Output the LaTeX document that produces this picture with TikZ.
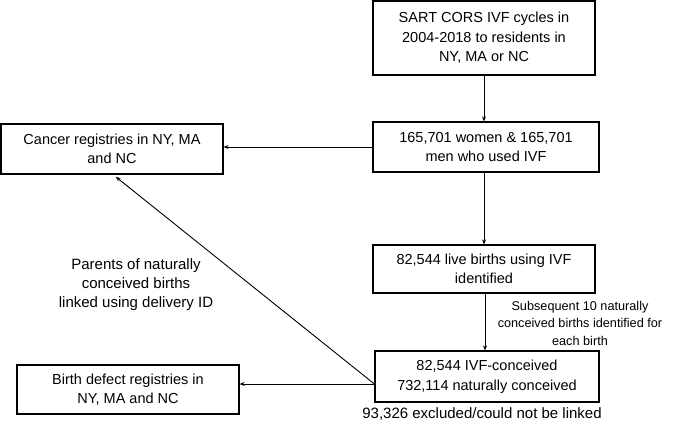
\documentclass[tikz,border=0pt]{standalone}
\usepackage{fontspec}
\setmainfont{Liberation Sans}
\usetikzlibrary{arrows.meta}
\begin{document}
\begin{tikzpicture}[x=1pt,y=-1pt,
  box/.style={draw, line width=1.2pt, align=center, inner sep=0pt,
    font=\fontsize{14.5}{19.5}\selectfont},
  arr/.style={-{Stealth[length=5pt,width=4pt]}, line width=0.9pt},
  lbl/.style={align=center, inner sep=0pt}]
\useasboundingbox (0,0) rectangle (685,426);
\node[box, minimum width=222pt, minimum height=74pt] (b1) at (484,38)
  {SART CORS IVF cycles in\\2004-2018 to residents in\\NY, MA or NC};
\node[box, minimum width=226pt, minimum height=50pt] (b2) at (486,147)
  {165,701 women \& 165,701\\men who used IVF};
\node[box, minimum width=222pt, minimum height=50pt] (can) at (112,149)
  {Cancer registries in NY, MA\\and NC};
\node[box, minimum width=222pt, minimum height=48pt] (b3) at (484,269)
  {82,544 live births using IVF\\identified};
\node[box, minimum width=224pt, minimum height=51pt] (b4) at (487,376.5)
  {82,544 IVF-conceived\\732,114 naturally conceived};
\node[box, minimum width=222pt, minimum height=49pt] (bd) at (128,389.5)
  {Birth defect registries in\\NY, MA and NC};
\node[lbl, font=\fontsize{12.7}{17.5}\selectfont] (l1) at (580,323)
  {Subsequent 10 naturally\\conceived births identified for\\each birth};
\node[lbl, font=\fontsize{15}{19}\selectfont] (l2) at (136,285)
  {Parents of naturally\\conceived births\\linked using delivery ID};
\node[lbl, font=\fontsize{15}{18}\selectfont] (l3) at (482,414)
  {93,326 excluded/could not be linked};
\draw[arr] (b1.south -| 484,0) -- (b2.north -| 484,0);
\draw[arr] (b2.west) -- (b2.west -| can.east);
\draw[arr] (b2.south -| 484,0) -- (b3.north -| 484,0);
\draw[arr] (b3.south -| 485,0) -- (b4.north -| 485,0);
\coordinate (j) at ([yshift=-7.5pt]b4.west);
\draw[arr] (j) -- (j -| bd.east);
\draw[arr, shorten >=3.5pt] (j) -- ([xshift=1pt]can.south);
\end{tikzpicture}
\end{document}
